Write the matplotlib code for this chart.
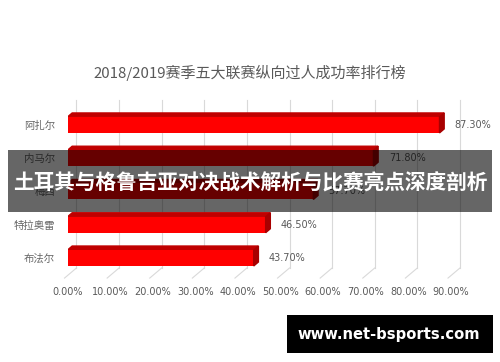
import numpy as np
import matplotlib
matplotlib.use('Agg')
import matplotlib.pyplot as plt
from matplotlib.patches import Polygon, Rectangle
import matplotlib.transforms as mtransforms

plt.rcParams['font.family'] = ['Noto Sans CJK SC', 'DejaVu Sans']

title = '2018/2019赛季五大联赛纵向过人成功率排行榜'
players = ['阿扎尔', '内马尔', '梅西', '特拉奥雷', '布法尔']
rates = [87.3, 71.8, 57.7, 46.5, 43.7]
ticks = [0, 10, 20, 30, 40, 50, 60, 70, 80, 90]
banner = '土耳其与格鲁吉亚对决战术解析与比赛亮点深度剖析'
site = 'www.net-bsports.com'

grey = '#595959'

fig = plt.figure(figsize=(5, 3.62), dpi=100)
ax = fig.add_axes([0.135, 0.2597, 0.767, 0.4641])

n = len(players)
ypos = np.arange(n)[::-1]
h = 0.48
dx, dy = 1.1, 0.12   # fake 3d depth

# back wall grid lines + floor slants
blend = mtransforms.blended_transform_factory(ax.transData, ax.transAxes)
for t in ticks:
    ax.plot([t + 2.1, t + 2.1], [0, 1], color='#d9d9d9', lw=0.8,
            transform=blend, clip_on=False, zorder=0)
    ax.plot([t + 2.1, t - 0.7], [0, -0.06], color='#d9d9d9', lw=0.8,
            transform=blend, clip_on=False, zorder=0)

ax.barh(ypos, rates, height=h, color='#ff0000', zorder=3)
for y, v in zip(ypos, rates):
    top = Polygon([[0, y + h / 2], [v, y + h / 2], [v + dx, y + h / 2 + dy],
                   [dx, y + h / 2 + dy]], closed=True, color='#c00000', zorder=2)
    side = Polygon([[v, y - h / 2], [v + dx, y - h / 2 + dy],
                    [v + dx, y + h / 2 + dy], [v, y + h / 2]], closed=True,
                   color='#a80000', zorder=3)
    ax.add_patch(top)
    ax.add_patch(side)
    ax.annotate(f'{v:.2f}%', (v, y), xytext=(11, 0), textcoords='offset points',
                va='center', ha='left', fontsize=7, color=grey,
                family=['DejaVu Sans'])

ax.set_xlim(0, 90)
ax.set_ylim(-0.3, 4.75)
ax.set_yticks(ypos)
ax.set_yticklabels(players, fontsize=7.5, color='#666666')
ax.set_xticks(ticks)
ax.set_xticklabels([f'{t:.2f}%' for t in ticks], fontsize=7, color=grey,
                   family=['DejaVu Sans'])
ax.tick_params(axis='x', length=0, pad=14)
ax.tick_params(axis='y', length=0, pad=9)
for s in ax.spines.values():
    s.set_visible(False)

fig.text(0.5, 1 - 73 / 362, title, ha='center', va='center', fontsize=10.8,
         color=grey)

# overlay banner
fig.patches.append(Rectangle((0.016, 1 - 212 / 362), 0.968, 62 / 362,
                             transform=fig.transFigure, facecolor='black',
                             edgecolor='none', alpha=0.6, zorder=10))
fig.text(0.5, 1 - 183 / 362, banner, ha='center', va='center', fontsize=14.9,
         color='white', fontweight='bold', zorder=11)

# watermark
fig.patches.append(Rectangle((287 / 500, 1 - 353 / 362), 206 / 500, 38 / 362,
                             transform=fig.transFigure, facecolor='black',
                             edgecolor='none', zorder=10))
fig.text(389 / 500, 1 - 334 / 362, site, ha='center', va='center', fontsize=10.6,
         color='white', fontweight='bold', family=['DejaVu Sans'], zorder=11)

fig.savefig('out.png', dpi=100)
